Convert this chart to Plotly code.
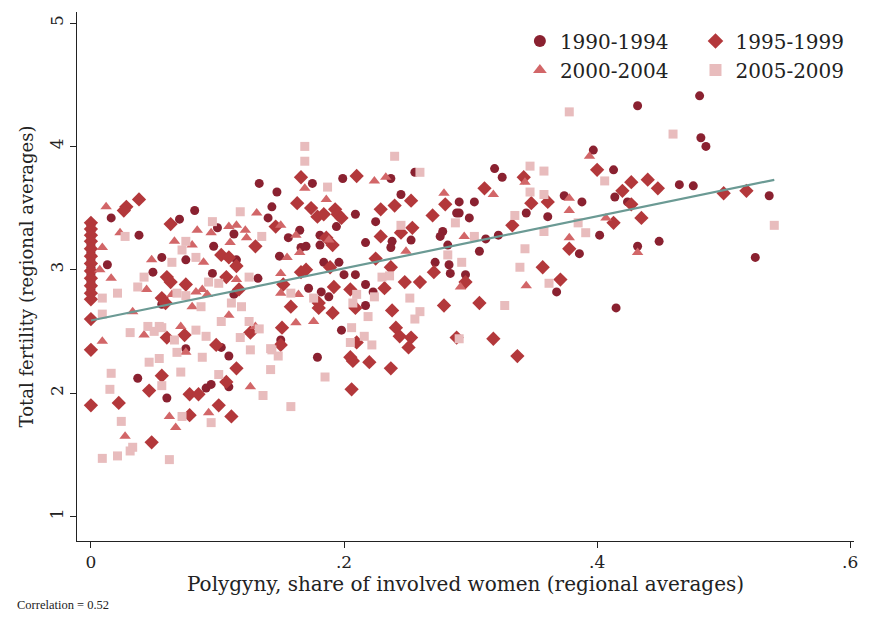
import numpy as np
import plotly.graph_objects as go

# Regional averages: polygyny share (x) and total fertility (y), by period
x_9094 = [0, 0, 0, 0, 0, 0, 0, 0, 0, 0,
          .016, .038, .082, .07, .133, .14, .1, .113, .097, .075, .056, .115, .013, .049,
          .096, .132, .056, .113, .075, .103, .109, .037, .06, .091, .095, .109,
          .256, .175, .199, .237, .147, .245, .291, .143, .209, .225, .289, .165, .194, .278,
          .276, .238, .253, .181, .156, .166, .17, .181, .217, .237, .149, .282, .272, .184,
          .196, .2, .209, .283, .284, .172, .182, .188, .217, .223, .217, .198, .15, .179,
          .432, .397, .319, .325, .413, .374, .388, .414, .424, .303, .291, .299, .344, .361,
          .312, .322, .402, .386, .432, .307, .296, .368, .415,
          .481, .482, .486, .465, .476, .536, .449, .525]
y_9094 = [3.36, 3.31, 3.26, 3.2, 3.14, 3.08, 3.02, 2.96, 2.9, 2.84,
          3.42, 3.28, 3.48, 3.41, 3.7, 3.42, 3.34, 3.29, 3.19, 3.08, 3.1, 3.08, 3.04, 2.98,
          2.97, 2.93, 2.72, 2.8, 2.36, 2.37, 2.3, 2.12, 1.96, 2.04, 2.07, 2.05,
          3.79, 3.7, 3.74, 3.74, 3.63, 3.61, 3.55, 3.51, 3.45, 3.39, 3.46, 3.32, 3.35, 3.31,
          3.27, 3.23, 3.24, 3.28, 3.26, 3.18, 3.19, 3.2, 3.22, 3.18, 3.11, 3.2, 3.06, 3.06,
          3.06, 2.96, 2.96, 3.04, 2.97, 2.85, 2.82, 2.78, 2.88, 2.82, 2.71, 2.51, 2.43, 2.29,
          4.33, 3.97, 3.82, 3.75, 3.81, 3.6, 3.55, 3.59, 3.55, 3.55, 3.46, 3.42, 3.46, 3.43,
          3.25, 3.28, 3.28, 3.13, 3.19, 3.15, 2.96, 2.82, 2.69,
          4.41, 4.07, 4.0, 3.69, 3.68, 3.6, 3.23, 3.1]

x_9599 = [0, 0, 0, 0, 0, 0, 0, 0, 0, 0, 0, 0, 0, 0, 0,
          .028, .026, .038, .063, .13, .103, .109, .115, .06, .063, .107, .075, .056, .059, .117,
          .06, .074, .099, .126, .115, .056, .046, .078, .085, .107, .022, .101, .078, .111, .048,
          .166, .21, .163, .253, .24, .28, .174, .179, .184, .193, .195, .198, .229, .27, .146,
          .254, .229, .186, .191, .245, .225, .189, .237, .166, .17,
          .248, .26, .271, .152, .192, .18, .205, .232, .209, .279, .158, .191, .18, .238, .151,
          .241, .244, .253, .251, .21, .15, .289, .205, .207, .22, .237, .206,
          .342, .40, .311, .348, .361, .42, .427, .44, .427, .333, .413, .435,
          .378, .357, .296, .371, .307, .318, .337,
          .448, .5, .518]
y_9599 = [3.38, 3.33, 3.28, 3.23, 3.17, 3.11, 3.05, 2.99, 2.93, 2.87, 2.81, 2.76, 2.6, 2.35, 1.9,
          3.51, 3.48, 3.57, 3.37, 3.19, 3.12, 3.1, 3.03, 2.94, 2.9, 2.94, 2.88, 2.77, 2.73, 2.84,
          2.45, 2.47, 2.39, 2.49, 2.2, 2.14, 2.02, 1.99, 1.99, 2.09, 1.92, 1.9, 1.82, 1.81, 1.6,
          3.75, 3.76, 3.54, 3.56, 3.52, 3.53, 3.5, 3.43, 3.45, 3.49, 3.45, 3.42, 3.49, 3.44, 3.35,
          3.34, 3.27, 3.26, 3.2, 3.3, 3.09, 3.02, 3.02, 2.98, 3.0,
          2.9, 2.9, 2.98, 2.88, 2.86, 2.73, 2.84, 2.85, 2.69, 2.71, 2.7, 2.65, 2.69, 2.67, 2.53,
          2.53, 2.46, 2.45, 2.37, 2.41, 2.39, 2.45, 2.29, 2.26, 2.25, 2.2, 2.03,
          3.75, 3.81, 3.66, 3.54, 3.55, 3.64, 3.71, 3.73, 3.53, 3.36, 3.38, 3.42,
          3.17, 3.02, 2.9, 2.92, 2.73, 2.44, 2.3,
          3.66, 3.62, 3.64]

x_0004 = [.012, .023, .084, .095, .109, .115, .131, .122, .123, .009, .066, .11, .08, .089,
          .048, .007, .016, .115, .044, .083, .064, .088, .092, .08, .033, .071, .109, .13,
          .009, .042, .075, .126, .062, .093, .067, .027,
          .169, .224, .233, .186, .279, .15, .162, .188, .249, .15, .165, .155,
          .15, .164, .162, .176,
          .394, .343, .318, .378, .378, .407,
          .295, .378, .432, .292, .344]
y_0004 = [3.51, 3.3, 3.32, 3.3, 3.35, 3.36, 3.46, 3.32, 3.26, 3.18, 3.23, 3.22, 3.2, 3.06,
          3.08, 3.0, 2.93, 2.92, 2.84, 2.82, 2.8, 2.84, 2.8, 2.7, 2.66, 2.54, 2.63, 2.54,
          2.42, 2.47, 2.33, 2.05, 1.81, 1.84, 1.72, 1.65,
          3.66, 3.72, 3.75, 3.57, 3.62, 3.36, 3.28, 3.24, 3.15, 2.97, 3.14, 3.1,
          2.81, 2.8, 2.57, 2.58,
          3.92, 3.71, 3.61, 3.58, 3.48, 3.42,
          3.27, 3.26, 3.14, 2.86, 2.87]

x_0509 = [.027, .118, .096, .075, .072, .083, .135, .064, .042, .093, .101, .125, .037, .021,
          .009, .075, .068, .087, .111, .119, .009, .045, .054, .103, .125,
          .031, .05, .056, .066, .068, .083, .091, .088, .118, .126, .133, .142, .016, .046,
          .054, .071, .101, .056, .015, .136, .072, .095, .024, .033, .031, .009, .021, .062,
          .169, .169, .24, .26, .187, .288, .245, .282, .23,
          .236, .158, .176, .21, .224, .207, .252, .26, .256, .219, .206, .216, .205, .222,
          .143, .148, .291, .142, .185, .158,
          .378, .347, .358, .406, .347, .358, .335, .385,
          .303, .358, .391, .343, .293, .339, .362, .327,
          .46, .54]
y_0509 = [3.27, 3.47, 3.39, 3.23, 3.16, 3.1, 3.27, 3.06, 2.94, 2.9, 2.89, 2.94, 2.86, 2.81,
          2.77, 2.79, 2.81, 2.7, 2.73, 2.7, 2.64, 2.54, 2.54, 2.58, 2.58,
          2.49, 2.5, 2.53, 2.43, 2.33, 2.51, 2.46, 2.29, 2.45, 2.35, 2.52, 2.36, 2.16, 2.25,
          2.28, 2.17, 2.15, 2.06, 2.03, 1.98, 1.81, 1.76, 1.77, 1.56, 1.53, 1.47, 1.49, 1.46,
          4.0, 3.88, 3.92, 3.79, 3.67, 3.38, 3.36, 3.12, 2.94,
          2.95, 2.81, 2.77, 2.8, 2.78, 2.73, 2.77, 2.66, 2.6, 2.62, 2.53, 2.46, 2.41, 2.39,
          2.35, 2.3, 2.44, 2.19, 2.13, 1.89,
          4.28, 3.84, 3.8, 3.72, 3.63, 3.61, 3.44, 3.38,
          3.27, 3.31, 3.3, 3.17, 3.06, 3.02, 2.89, 2.71,
          4.1, 3.36]

periods = ["1990-1994", "1995-1999", "2000-2004", "2005-2009"]
correlation_text = "Correlation = 0.52"
x_ticks = [0, 0.2, 0.4, 0.6]
x_tick_labels = ["0", ".2", ".4", ".6"]
y_ticks = [1, 2, 3, 4, 5]

series = [
    (periods[0], x_9094, y_9094, "circle", 9, "#8a2130", "legend"),
    (periods[1], x_9599, y_9599, "diamond", 11, "#b3383b", "legend2"),
    (periods[2], x_0004, y_0004, "triangle-up", 10, "#d26668", "legend"),
    (periods[3], x_0509, y_0509, "square", 9, "#e8bcbd", "legend2"),
]

SERIF = "Georgia, 'DejaVu Serif', serif"
SERIF_NARROW = "Georgia, 'Liberation Serif', serif"

fig = go.Figure()
for name, xs, ys, sym, size, col, leg in series:
    fig.add_trace(go.Scatter(
        x=xs, y=ys, mode="markers", name=name, legend=leg,
        marker=dict(symbol=sym, size=size, color=col, line=dict(width=0)),
    ))

# Linear fit over all periods
all_x = np.concatenate([x_9094, x_9599, x_0004, x_0509])
all_y = np.concatenate([y_9094, y_9599, y_0004, y_0509])
slope, intercept = np.polyfit(all_x, all_y, 1)
fit_x = np.array([all_x.min(), all_x.max()])
fig.add_trace(go.Scatter(
    x=fit_x, y=intercept + slope * fit_x, mode="lines", showlegend=False,
    line=dict(color="#6b9a94", width=2.2),
))

legend_style = dict(yanchor="top", xanchor="left", bgcolor="rgba(255,255,255,0)",
                    font=dict(size=20, family=SERIF), itemsizing="constant")

fig.update_layout(
    width=870, height=622,
    margin=dict(l=77, r=12, t=12, b=81),
    paper_bgcolor="white", plot_bgcolor="white",
    font=dict(family=SERIF, size=16, color="#222"),
    legend=dict(x=0.570, y=0.982, **legend_style),
    legend2=dict(x=0.796, y=0.982, **legend_style),
    annotations=[dict(text=correlation_text, xref="paper", yref="paper",
                      x=-0.08, y=-0.121, xanchor="left", yanchor="middle",
                      showarrow=False, font=dict(size=12.5, family=SERIF_NARROW))],
)
fig.update_xaxes(
    range=[-0.011, 0.603], tickvals=x_ticks, ticktext=x_tick_labels,
    showgrid=False, zeroline=False, showline=True, linecolor="#222", linewidth=1,
    ticks="outside", ticklen=6, tickcolor="#222", tickfont=dict(size=17),
    title=dict(text="Polygyny, share of involved women (regional averages)",
               font=dict(size=20), standoff=2),
)
fig.update_yaxes(
    range=[0.8, 5.09], tickvals=y_ticks, tickangle=-90,
    showgrid=False, zeroline=False, showline=True, linecolor="#222", linewidth=1,
    ticks="outside", ticklen=6, tickcolor="#222", tickfont=dict(size=17),
    title=dict(text="Total fertility (regional averages)", font=dict(size=18), standoff=8),
)

fig.write_html("out.html")
